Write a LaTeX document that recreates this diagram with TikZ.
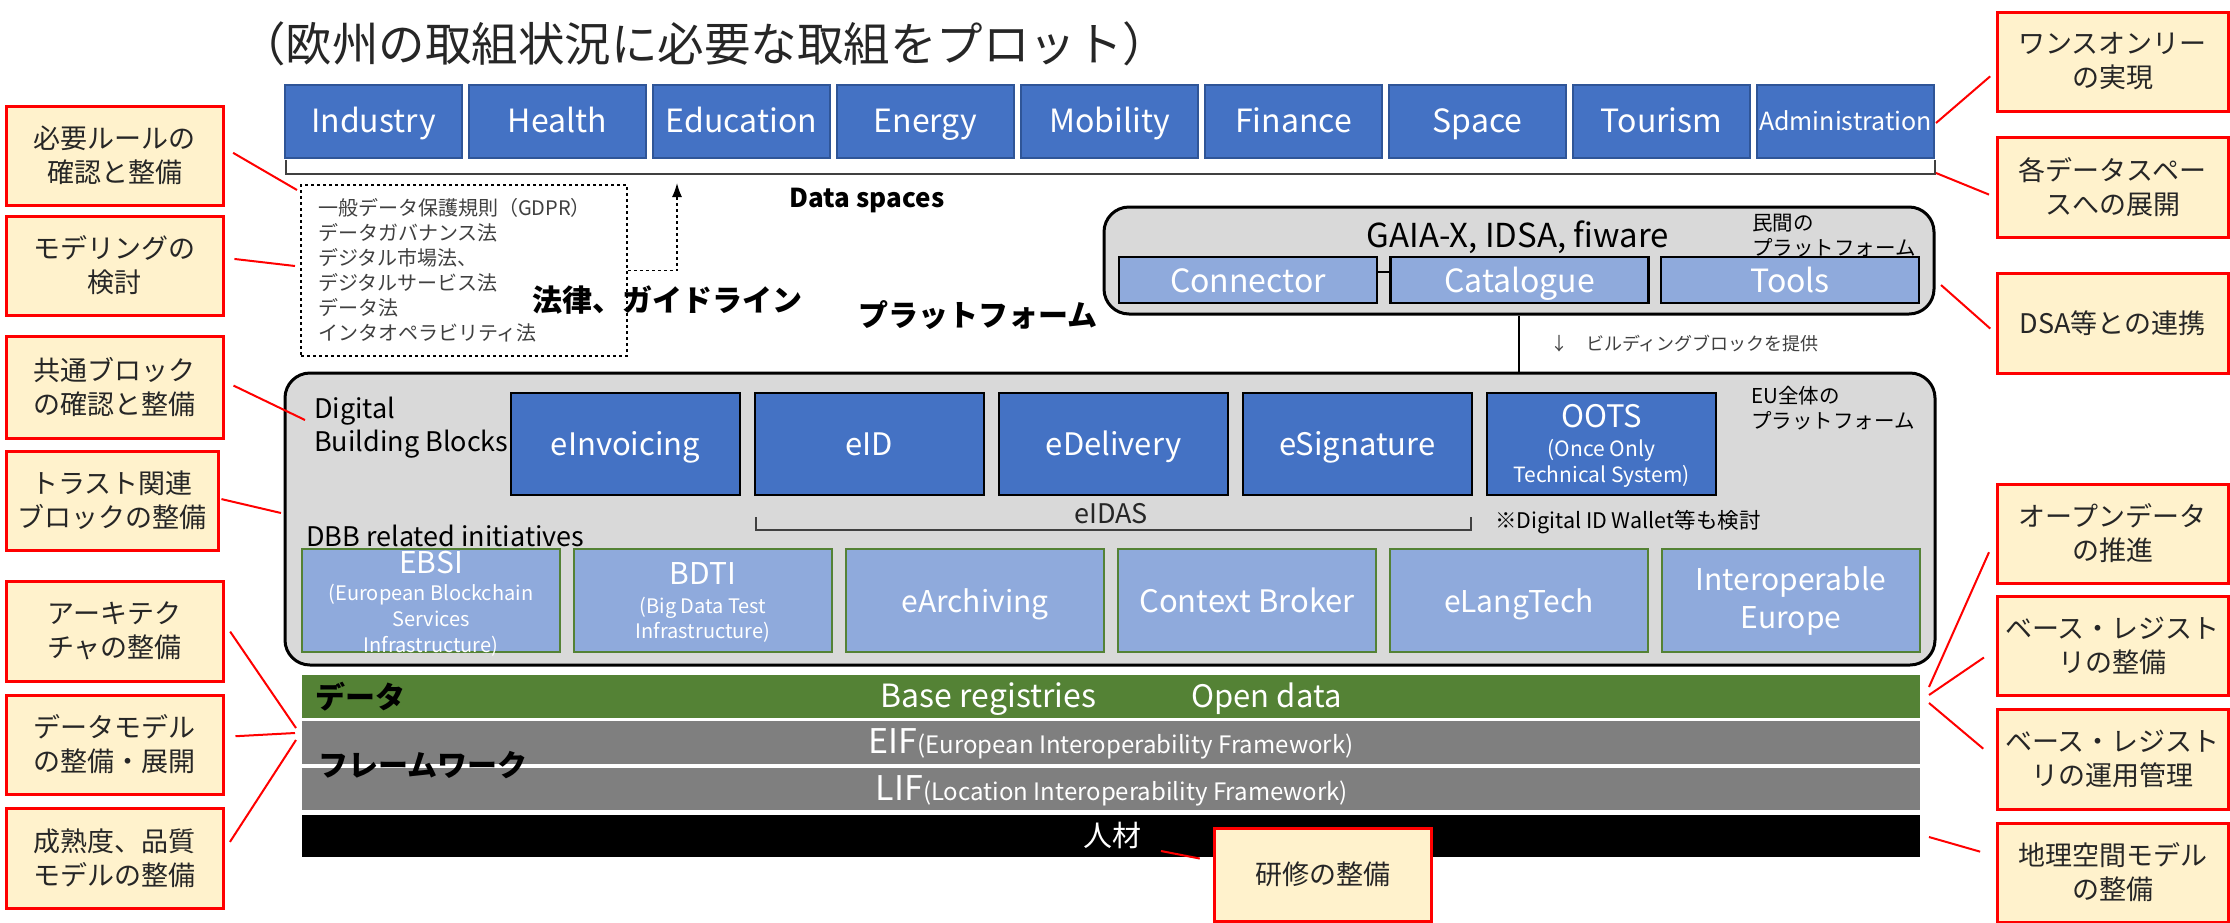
\documentclass[tikz,border=0pt]{standalone}
\usepackage{fontspec}
\setmainfont{Noto Sans CJK JP}
\usetikzlibrary{arrows.meta}
\definecolor{dsblue}{HTML}{4472C4}
\definecolor{dsedge}{HTML}{2F5597}
\definecolor{ltblue}{HTML}{8FAADC}
\definecolor{grn}{HTML}{548235}
\definecolor{panel}{HTML}{D9D9D9}
\definecolor{barg}{HTML}{7F7F7F}
\definecolor{notefill}{HTML}{FFF2CC}
\definecolor{ink}{HTML}{262626}
\definecolor{rulegray}{HTML}{404040}
\newcommand\setfs[2]{\fontsize{#1}{#2}\selectfont}
\tikzset{
  ds/.style={draw=dsedge, line width=1.5pt, fill=dsblue, text=white, minimum width=177pt,
    minimum height=73pt, inner sep=0pt, font=\setfs{32}{38}, text height=27pt, text depth=6pt},
  bb/.style={draw=black, line width=2.5pt, fill=dsblue, text=white, minimum width=229pt,
    minimum height=102pt, inner sep=0pt, font=\setfs{31}{36}, text height=28pt, text depth=6pt},
  bbbox/.style={draw=black, line width=2.5pt, fill=dsblue, minimum width=229pt,
    minimum height=102pt, inner sep=0pt},
  ini/.style={draw=grn, line width=2pt, fill=ltblue, text=white, minimum width=258pt,
    minimum height=103pt, inner sep=0pt, font=\setfs{30}{36}, text height=29pt, text depth=6pt},
  inibox/.style={draw=grn, line width=2pt, fill=ltblue, minimum width=258pt,
    minimum height=103pt, inner sep=0pt},
  inner text/.style={inner sep=0pt, text=white, align=center},
  pfb/.style={draw=black, line width=2.5pt, fill=ltblue, text=white, minimum width=258pt,
    minimum height=46pt, inner sep=0pt, font=\setfs{32}{36}, text height=30pt, text depth=6pt},
  panelbox/.style={draw=black, line width=3pt, fill=panel, rounded corners=25pt, inner sep=0pt},
  band/.style={minimum width=1618pt, inner sep=0pt},
  note/.style={draw=red, line width=3pt, fill=notefill, minimum width=217pt, minimum height=99pt,
    inner sep=0pt, align=center, text=ink, font=\setfs{27}{34}},
  rnote/.style={note, minimum width=231pt},
  lead/.style={red, line width=2pt},
  plain/.style={inner sep=0pt, text=black},
}
\begin{document}
\begin{tikzpicture}[x=1pt, y=-1pt]
\useasboundingbox (0,0) rectangle (2230,922);

% heading
\node[plain, text=ink, font=\setfs{46.5}{52}] (title) at (704,44) {（欧州の取組状況に必要な取組をプロット）};

% data spaces row
\node[ds] (ind) at (373.5,121.5) {Industry};
\node[ds] (hea) at (557.5,121.5) {Health};
\node[ds] (edu) at (741.5,121.5) {Education};
\node[ds] (ene) at (925.5,121.5) {Energy};
\node[ds] (mob) at (1109.5,121.5) {Mobility};
\node[ds] (fin) at (1293.5,121.5) {Finance};
\node[ds] (spa) at (1477.5,121.5) {Space};
\node[ds] (tou) at (1661.5,121.5) {Tourism};
\node[ds, font=\setfs{25}{30}, text height=22pt, text depth=4pt] (adm) at (1845.5,121.5) {Administration};
\draw[rulegray, line width=2pt] (286,160) -- (286,174) -- (1935,174) -- (1935,160);
\node[plain, font=\bfseries\setfs{26}{30}] (dslabel) at (867,200) {Data spaces};

% laws and guidelines
\node[draw=black, dashed, line width=1.5pt, minimum width=326pt, minimum height=171pt,
  text width=292pt, inner sep=0pt, align=left, text=rulegray, font=\setfs{20}{25}] (law) at (464,270.5)
  {一般データ保護規則（GDPR）\\データガバナンス法\\デジタル市場法、\\デジタルサービス法\\データ法\\インタオペラビリティ法};
\coordinate (lawup) at (677,183);
\draw[dashed, line width=1.5pt, -{Latex[length=14pt,width=10pt]}] (law.east) -| (lawup);
\node[plain, font=\bfseries\setfs{30}{36}] (lawlabel) at (667,300) {法律、ガイドライン};
\node[plain, font=\bfseries\setfs{30}{36}] (pflabel) at (978,315) {プラットフォーム};

% private platforms
\node[panelbox, minimum width=830pt, minimum height=107pt] (pp) at (1519,260.5) {};
\node[plain, font=\setfs{33}{38}] (gaia) at (1518,237) {GAIA-X, IDSA, fiware};
\node[plain, anchor=west, align=left, font=\setfs{20.5}{25}] (ppnote) at (1752,236) {民間の\\プラットフォーム};
\node[pfb] (con) at (1248,280) {Connector};
\node[pfb] (cat) at (1519.5,280) {Catalogue};
\node[pfb] (too) at (1790,280) {Tools};
\draw[line width=1.5pt] ([yshift=8pt]con.east) -- ([yshift=8pt]cat.west);

% EU-wide platform
\node[panelbox, minimum width=1650pt, minimum height=292pt] (eu) at (1110,519) {};
\draw[line width=1.5pt] (pp.south) -- (pp.south |- eu.north);
\node[plain, anchor=west, text=rulegray, font=\setfs{18}{22}] (provide) at (1550,344) {↓　ビルディングブロックを提供};
\node[plain, anchor=west, align=left, font=\setfs{27}{33}] (dbblabel) at (314,428) {Digital\\Building Blocks};
\node[plain, anchor=west, align=left, font=\setfs{20.5}{25}] (eunote) at (1751,408) {EU全体の\\プラットフォーム};
\node[bb] (einv) at (625.5,444) {eInvoicing};
\node[bb] (eid) at (869.5,444) {eID};
\node[bb] (edel) at (1113.5,444) {eDelivery};
\node[bb] (esig) at (1357.5,444) {eSignature};
\node[bbbox] (oots) at (1601.5,444) {};
\node[inner text, font=\setfs{21}{26}, yshift=-1.5pt] (ootstext) at (oots)
  {{\setfs{31}{36}OOTS}\\[3pt](Once Only\\Technical System)};
\draw[rulegray, line width=1.5pt] (756,517) -- (756,530) -- (1471,530) -- (1471,517);
\node[plain, text=ink, font=\setfs{27}{32}] (eidas) at (1111,514) {eIDAS};
\node[plain, anchor=west, font=\setfs{21.5}{26}] (wallet) at (1495,522) {※Digital ID Wallet等も検討};
\node[plain, anchor=west, font=\setfs{27}{32}] (dbbrel) at (306,536) {DBB related initiatives};
\node[inibox] (ebsi) at (431,600.5) {};
\node[inner text, font=\setfs{20}{26}, yshift=-3pt] (ebsitext) at (ebsi)
  {{\setfs{30}{36}EBSI}\\[1pt](European Blockchain\\Services\\Infrastructure)};
\node[inibox] (bdti) at (703,600.5) {};
\node[inner text, font=\setfs{20}{25}, yshift=-2pt] (bdtitext) at (bdti)
  {{\setfs{30}{36}BDTI}\\[4pt](Big Data Test\\Infrastructure)};
\node[ini] (earc) at (975,600.5) {eArchiving};
\node[ini, font=\setfs{31}{36}] (ctx) at (1247,600.5) {Context Broker};
\node[ini] (elang) at (1519,600.5) {eLangTech};
\node[inibox] (ieu) at (1791,600.5) {};
\node[inner text, font=\setfs{30}{38}] (ieutext) at (ieu) {Interoperable\\Europe};

% foundation layers
\node[band, fill=grn, minimum height=43pt] (data) at (1111,696.5) {};
\node[plain, text=white, anchor=base, font=\setfs{32}{36}] (basereg) at (988.5,707) {Base registries};
\node[plain, text=white, anchor=base, font=\setfs{31}{36}] (opendata) at (1266.5,707) {Open data};
\node[plain, anchor=west, font=\bfseries\setfs{30}{34}] (datalabel) at (315,697) {データ};
\node[band, fill=barg, minimum height=43pt] (eif) at (1111,742.5) {};
\node[plain, text=white, anchor=base] (eiftext) at (1111,753)
  {{\setfs{34}{38}EIF}{\setfs{24}{28}(European Interoperability Framework)}};
\node[band, fill=barg, minimum height=42pt] (lif) at (1111,789) {};
\node[plain, text=white, anchor=base] (liftext) at (1112,800)
  {{\setfs{34}{38}LIF}{\setfs{24}{28}(Location Interoperability Framework)}};
\node[plain, anchor=west, font=\bfseries\setfs{30}{36}] (fwlabel) at (318,765) {フレームワーク};
\node[band, fill=black, minimum height=42pt] (hr) at (1111,836) {};
\node[plain, text=white, font=\setfs{29}{32}] (hrlabel) at (1112,835) {人材};

% left-hand action items
\node[note] (L1) at (114.5,155.5) {必要ルールの\\確認と整備};
\node[note] (L2) at (114.5,265.5) {モデリングの\\検討};
\node[note, minimum height=102pt] (L3) at (114.5,387) {共通ブロック\\の確認と整備};
\node[note, minimum width=212pt] (L4) at (112,500.5) {トラスト関連\\ブロックの整備};
\node[note, minimum height=100pt] (L5) at (114.5,631) {アーキテク\\チャの整備};
\node[note] (L6) at (114.5,744.5) {データモデル\\の整備・展開};
\node[note, minimum height=100pt] (L7) at (114.5,858) {成熟度、品質\\モデルの整備};

% right-hand action items
\node[rnote] (R1) at (2112.5,61.5) {ワンスオンリー\\の実現};
\node[rnote, minimum height=100pt] (R2) at (2112.5,187) {各データスペー\\スへの展開};
\node[rnote, minimum height=100pt] (R3) at (2112.5,323) {DSA等との連携};
\node[rnote] (R4) at (2112.5,533.5) {オープンデータ\\の推進};
\node[rnote] (R5) at (2112.5,645.5) {ベース・レジスト\\リの整備};
\node[rnote, minimum height=100pt] (R6) at (2112.5,759) {ベース・レジスト\\リの運用管理};
\node[rnote] (R7) at (2112.5,872.5) {地理空間モデル\\の整備};
\node[note, minimum height=93pt] (B1) at (1322.5,874.5) {研修の整備};

% leader lines
\coordinate (t1) at (297,190);
\coordinate (t2) at (295,266);
\coordinate (t3) at (305,420);
\coordinate (t4) at (281,513);
\coordinate (t5) at (296,728);
\coordinate (t6) at (295,733);
\coordinate (t7) at (296,740);
\coordinate (u1) at (1936,123);
\coordinate (u2) at (1936,173);
\coordinate (u3) at (1941,285);
\coordinate (u4) at (1929,687);
\coordinate (u5) at (1929,695);
\coordinate (u6) at (1929,703);
\coordinate (u7) at (1929,837);
\coordinate (tb) at (1161,851);
\draw[lead, shorten <=10pt] (L1.4) -- (t1);
\draw[lead, shorten <=10pt] (L2.4) -- (t2);
\draw[lead, shorten <=10pt] (L3.3) -- (t3);
\draw[lead, shorten <=2pt] (L4.1) -- (t4);
\draw[lead, shorten <=10pt] (L5.4) -- (t5);
\draw[lead, shorten <=11pt] (L6.4) -- (t6);
\draw[lead, shorten <=10pt] (L7.4) -- (t7);
\draw[lead, shorten <=7pt] (R1.185) -- (u1);
\draw[lead, shorten <=7pt] (R2.185) -- (u2);
\draw[lead, shorten <=7pt] (R3.185) -- (u3);
\draw[lead, shorten <=16pt] (R4.182) -- (u4);
\draw[lead, shorten <=14pt] (R5.182) -- (u5);
\draw[lead, shorten <=16pt] (R6.180) -- (u6);
\draw[lead, shorten <=16pt] (R7.172) -- (u7);
\draw[lead, shorten <=13pt] (B1.173) -- (tb);
\end{tikzpicture}
\end{document}
